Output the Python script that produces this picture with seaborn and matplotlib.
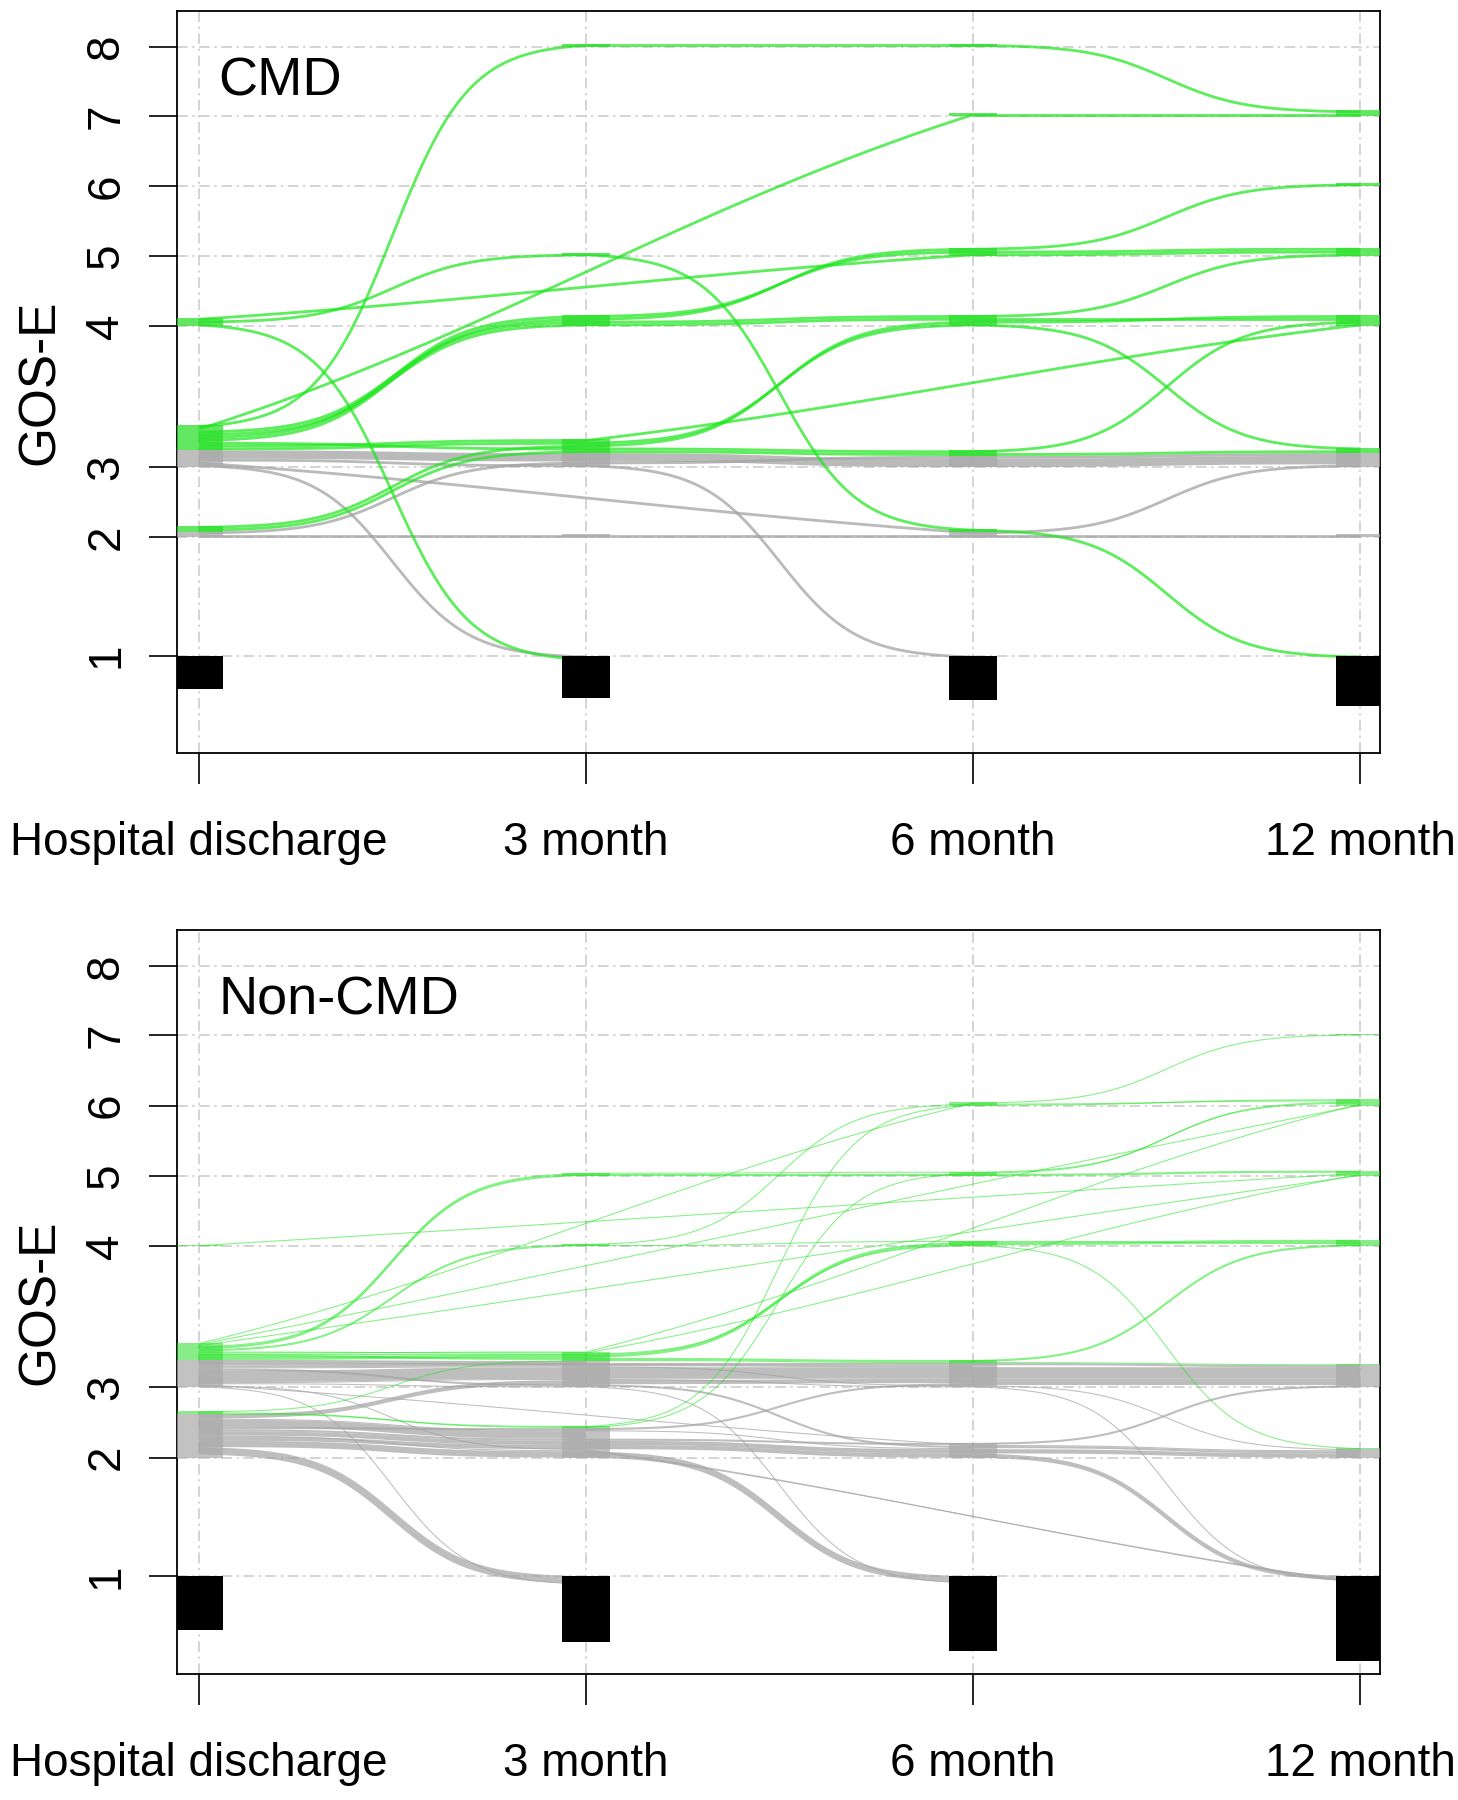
import numpy as np
import pandas as pd
import matplotlib
matplotlib.use("Agg")
import matplotlib.pyplot as plt
from matplotlib.patches import Rectangle
import seaborn as sns

TIMES = ["Hospital discharge", "3 month", "6 month", "12 month"]
GOSE_LEVELS = [1, 2, 3, 4, 5, 6, 7, 8]
# where each GOS-E level sits on the (non linear) vertical axis
LEVEL_POS = [0.0, 1.69, 2.69, 4.70, 5.70, 6.70, 7.70, 8.69]

# trajectories: GOS-E at [discharge, 3m, 6m, 12m], 0 = not recorded, 1 = dead
# group: "g" = green, "k" = grey
CMD_PATHS = [
    [1, 1, 1, 1], [0, 1, 1, 1], [0, 0, 0, 1], [3, 1, 1, 1], [3, 3, 1, 1],
    [3, 3, 3, 3], [3, 0, 2, 3], [2, 3, 3, 3], [2, 2, 2, 2],
    [4, 1, 1, 1], [4, 5, 2, 1], [4, 0, 5, 5], [3, 8, 8, 7], [3, 0, 7, 7],
    [3, 4, 5, 6], [3, 4, 5, 5], [3, 4, 4, 4], [3, 4, 4, 5], [3, 3, 4, 3],
    [3, 3, 0, 4], [3, 3, 3, 4], [2, 3, 3, 3], [2, 3, 4, 4],
]
CMD_COUNTS = [12, 1, 1, 1, 1, 3, 1, 1, 1,
              1, 1, 1, 1, 1, 1, 1, 1, 1, 1, 1, 1, 1, 1]
CMD_GROUP = ["k"] * 9 + ["g"] * 14

NONCMD_PATHS = [
    [1, 1, 1, 1], [0, 1, 1, 1], [0, 0, 1, 1], [0, 0, 0, 1], [2, 1, 1, 1],
    [3, 1, 1, 1], [2, 2, 1, 1], [3, 3, 1, 1], [2, 2, 2, 1], [3, 3, 3, 1],
    [2, 2, 0, 1], [3, 2, 0, 1], [2, 2, 2, 2], [2, 2, 2, 3], [2, 2, 3, 3],
    [2, 3, 3, 3], [3, 3, 3, 3], [3, 3, 2, 2], [3, 3, 3, 2], [3, 0, 2, 2],
    [2, 2, 0, 0], [2, 2, 2, 0], [2, 0, 0, 0], [3, 3, 3, 0], [3, 0, 3, 3],
    [3, 3, 0, 0],
    [4, 0, 0, 5], [3, 5, 5, 5], [3, 5, 5, 6], [3, 4, 4, 4], [3, 4, 6, 6],
    [3, 0, 0, 5], [3, 0, 0, 6], [3, 0, 6, 7], [3, 3, 4, 4], [3, 3, 3, 4],
    [3, 3, 4, 2], [2, 2, 6, 6], [2, 2, 5, 6], [3, 3, 0, 6], [3, 3, 0, 5],
    [2, 3, 3, 3],
]
NONCMD_COUNTS = [51, 3, 2, 2, 7, 1, 6, 1, 4, 1, 1, 1, 4, 2, 2, 4, 11, 2, 1, 1,
                 7, 1, 3, 2, 2, 3,
                 1, 2, 1, 1, 1, 1, 1, 1, 3, 2, 1, 1, 1, 1, 1, 1]
NONCMD_GROUP = ["k"] * 26 + ["g"] * 16

FLOW_COL = {"k": "#a3a3a3", "g": "#1ee61e"}
NODE_COL = {"k": "#a9a9a9", "g": "#27df27"}
GRID_COL = "#c9c9c9"
HALF_W = 0.062
YLIM = (-1.39, 9.2)
XLIM = (-0.056, 3.051)


def level_y(L):
    return LEVEL_POS[L - 1]


def sigmoid_path(x0, x1, y0, y1):
    span = x1 - x0
    k = 10.0 / span ** 2
    xs = np.linspace(x0, x1, int(90 * span))
    s = (xs - x0) / span
    lo = 1 / (1 + np.exp(k / 2))
    hi = 1 / (1 + np.exp(-k / 2))
    f = (1 / (1 + np.exp(-k * (s - 0.5))) - lo) / (hi - lo)
    return xs, y0 + (y1 - y0) * f


def near_level(path, t, step):
    idx = range(t + 1, 4) if step > 0 else range(t - 1, -1, -1)
    for j in idx:
        if path[j] > 0:
            return path[j]
    return 0


def draw_panel(ax, fig, paths, counts, groups, unit, alphas, label):
    # stack each trajectory into a slot at every node
    nodes = {}
    for i, p in enumerate(paths):
        for t, L in enumerate(p):
            if L > 0:
                nodes.setdefault((t, L), []).append(i)
    centre = {}
    order = {}
    for (t, L), members in nodes.items():
        if L == 1:
            key = lambda i: (0 if near_level(paths[i], t, -1) > 1 else 1,)
        else:
            def key(i):
                nl = near_level(paths[i], t, 1)
                pl = near_level(paths[i], t, -1)
                return (0 if groups[i] == "k" else 1, nl if nl else pl, pl)
        members = sorted(members, key=key)
        order[(t, L)] = members
        cum = 0
        for i in members:
            c = counts[i]
            if L == 1:
                centre[(i, t)] = level_y(1) - (cum + c / 2) * unit
            else:
                centre[(i, t)] = level_y(L) + (cum + c / 2) * unit
            cum += c

    rows = []
    seg = 0
    for i, p in enumerate(paths):
        rec = [t for t in range(4) if p[t] > 0]
        for a, b in zip(rec[:-1], rec[1:]):
            if p[a] == 1:
                continue
            xs, ys = sigmoid_path(a, b, centre[(i, a)], centre[(i, b)])
            for x, y in zip(xs, ys):
                rows.append((seg, x, y, counts[i], groups[i]))
            seg += 1
    df = pd.DataFrame(rows, columns=["seg", "x", "y", "count", "group"])

    # line width in points for one patient
    ax_h_pt = ax.get_position().height * fig.get_figheight() * 72
    lw_unit = unit * ax_h_pt / (YLIM[1] - YLIM[0])

    for t in range(4):
        ax.axvline(t, color=GRID_COL, lw=1.1, ls=(0, (7, 3, 1.5, 3)), zorder=0)
    for yv in LEVEL_POS:
        ax.axhline(yv, color=GRID_COL, lw=1.1, ls=(0, (7, 3, 1.5, 3)), zorder=0)

    for g in ["k", "g"]:
        sub = df[df["group"] == g]
        sizes = {c: c * lw_unit for c in sub["count"].unique()}
        sns.lineplot(data=sub, x="x", y="y", units="seg", estimator=None,
                     size="count", sizes=sizes, color=FLOW_COL[g],
                     alpha=alphas[g], legend=False, sort=False,
                     solid_capstyle="butt", ax=ax, zorder=2)

    for (t, L), members in order.items():
        total = sum(counts[i] for i in members)
        if L == 1:
            ax.add_patch(Rectangle((t - HALF_W, level_y(1) - total * unit),
                                   2 * HALF_W, total * unit, color="black",
                                   lw=0, zorder=5))
            continue
        cum = 0
        for i in members:
            c = counts[i]
            ax.add_patch(Rectangle((t - HALF_W, level_y(L) + cum * unit),
                                   2 * HALF_W, c * unit, color=NODE_COL[groups[i]],
                                   alpha=alphas[groups[i]], lw=0, zorder=4))
            cum += c

    ax.set_xlim(*XLIM)
    ax.set_ylim(*YLIM)
    ax.set_xticks(range(4), TIMES)
    ax.set_yticks(LEVEL_POS, [str(v) for v in GOSE_LEVELS])
    plt.setp(ax.get_yticklabels(), rotation=90, va="center")
    ax.tick_params(axis="x", length=22, width=1.2, pad=27, labelsize=33,
                   bottom=True, color="black", labelcolor="black")
    ax.tick_params(axis="y", length=20, width=1.2, pad=15, labelsize=33,
                   left=True, color="black", labelcolor="black")
    ax.set_xlabel("")
    ax.set_ylabel("GOS-E", fontsize=37, labelpad=14, color="black")
    for sp in ax.spines.values():
        sp.set_visible(True)
        sp.set_color("black")
        sp.set_linewidth(1.3)
    ax.text(0.05, 8.2, label, fontsize=39, ha="left", va="center",
            color="black", zorder=6)


sns.set_theme(style="white")
plt.rcParams["font.family"] = ["Liberation Sans", "DejaVu Sans"]
plt.rcParams["text.color"] = "black"

fig = plt.figure(figsize=(14.58, 18), dpi=100)
ax1 = fig.add_axes([177 / 1458, 1 - 753 / 1800, 1203 / 1458, 742 / 1800])
ax2 = fig.add_axes([177 / 1458, 1 - 1674 / 1800, 1203 / 1458, 744 / 1800])

draw_panel(ax1, fig, CMD_PATHS, CMD_COUNTS, CMD_GROUP, 0.04,
           {"k": 0.75, "g": 0.72}, "CMD")
draw_panel(ax2, fig, NONCMD_PATHS, NONCMD_COUNTS, NONCMD_GROUP, 0.015,
           {"k": 0.7, "g": 0.55}, "Non-CMD")

fig.savefig("out.png", dpi=100)
